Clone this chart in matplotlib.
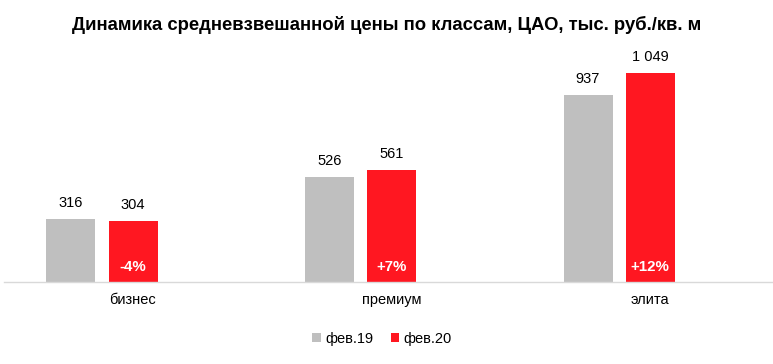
import matplotlib
matplotlib.use("Agg")
import matplotlib.pyplot as plt
import numpy as np

categories = ["бизнес", "премиум", "элита"]
series_names = ["фев.19", "фев.20"]
values_19 = [316, 526, 937]
values_20 = [304, 561, 1049]
changes = ["-4%", "+7%", "+12%"]
value_labels_19 = ["316", "526", "937"]
value_labels_20 = ["304", "561", "1 049"]

plt.rcParams['font.family'] = ['Liberation Sans', 'DejaVu Sans']

W, H = 773, 364
fig = plt.figure(figsize=(W / 100, H / 100), dpi=100)
left_px, right_px = 3.75, 779.25
bottom_px, top_px = 281.7, 42.7
ax = fig.add_axes([left_px / W, 1 - bottom_px / H, (right_px - left_px) / W, (bottom_px - top_px) / H])

gray = "#BFBFBF"
red = "#FF1721"
x = np.arange(len(categories))
step = 62 / 258.5
bw = 49 / 258.5

b1 = ax.bar(x - step, values_19, width=bw, color=gray, label=series_names[0])
b2 = ax.bar(x, values_20, width=bw, color=red, label=series_names[1])

ax.set_xlim(-0.5, len(categories) - 0.5)
ax.set_ylim(0, 1200)

for xi, v, lab in zip(x - step, values_19, value_labels_19):
    ax.annotate(lab, (xi, v), xytext=(0, 16), textcoords="offset pixels",
                ha="center", va="center", fontsize=10.5, color="#000000")
for xi, v, lab in zip(x, values_20, value_labels_20):
    ax.annotate(lab, (xi, v), xytext=(0, 16), textcoords="offset pixels",
                ha="center", va="center", fontsize=10.5, color="#000000")
for xi, lab in zip(x, changes):
    ax.annotate(lab, (xi, 0), xytext=(0, 15), textcoords="offset pixels",
                ha="center", va="center", fontsize=10.8, color="white", fontweight="bold")

for s in ["top", "right", "left"]:
    ax.spines[s].set_visible(False)
ax.spines["bottom"].set_color("#D9D9D9")
ax.spines["bottom"].set_linewidth(1)
ax.set_yticks([])
ax.set_xticks(x)
ax.set_xticklabels(categories, fontsize=10.5)
ax.tick_params(axis="x", length=0, pad=8)

fig.text(387 / W, 1 - 25 / H, "Динамика средневзвешанной цены по классам, ЦАО, тыс. руб./кв. м",
         ha="center", va="center", fontsize=13.3, fontweight="bold")

fig.legend(handles=[b1, b2], labels=series_names, loc="center", bbox_to_anchor=(382 / W, 1 - 339 / H),
           ncol=2, frameon=False, fontsize=10.5, handlelength=0.6, handleheight=0.6,
           handletextpad=0.3, columnspacing=1.2)

fig.savefig("out.png", dpi=100)
